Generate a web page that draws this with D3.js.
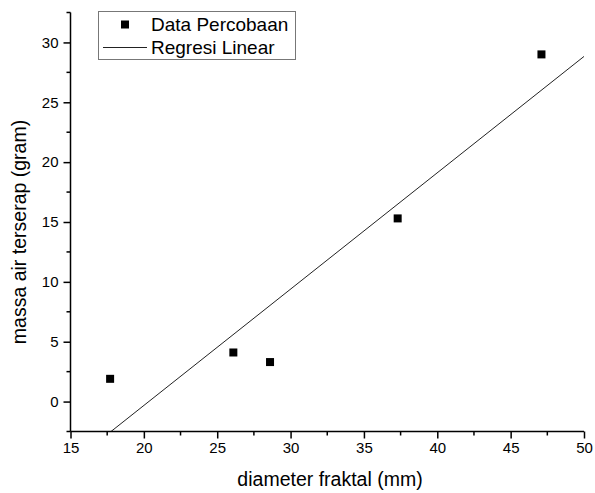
<!DOCTYPE html>
<html><head><meta charset="utf-8">
<script src="https://cdn.jsdelivr.net/npm/d3@7"></script>
<style>body{margin:0;background:#fff}svg{display:block}text{font-family:"Liberation Sans",Arial,sans-serif;fill:#000}</style>
</head><body><svg id="c" width="595" height="493"></svg>
<script>
const diameter = [17.7, 26.1, 28.6, 37.3, 47.1];
const massa = [1.9, 4.1, 3.3, 15.3, 29.0];
const regX = [17.7, 50];
const regY = [-2.56, 28.83];
const xTicks = [15, 20, 25, 30, 35, 40, 45, 50];
const yTicks = [0, 5, 10, 15, 20, 25, 30];
const xMinor = [17.5, 22.5, 27.5, 32.5, 37.5, 42.5, 47.5];
const yMinor = [-2.5, 2.5, 7.5, 12.5, 17.5, 22.5, 27.5, 32.5];
const legendLabels = ["Data Percobaan", "Regresi Linear"];
const xTitle = "diameter fraktal (mm)";
const yTitle = "massa air terserap (gram)";

const svg = d3.select("#c");
const x = d3.scaleLinear().domain([15, 50]).range([70.5, 584]);
const y = d3.scaleLinear().domain([-2.5, 32.5]).range([431.5, 12.5]);

svg.append("defs").append("clipPath").attr("id","clip").append("rect")
  .attr("x", 70.5).attr("y", 12.5).attr("width", 584-70.5).attr("height", 431.5-12.5);

// regression line
svg.append("path").datum(regX.map((d,i)=>[d, regY[i]]))
  .attr("clip-path","url(#clip)")
  .attr("d", d3.line().x(d=>x(d[0])).y(d=>y(d[1])))
  .attr("fill","none").attr("stroke","#222").attr("stroke-width",1);

// points
svg.append("g").selectAll("rect").data(diameter).join("rect")
  .attr("x",(d)=>x(d)-4).attr("y",(d,i)=>y(massa[i])-4)
  .attr("width",8).attr("height",8).attr("fill","#000");

// axes
const xAxis = svg.append("g").attr("transform","translate(0,431.5)")
  .call(d3.axisBottom(x).tickValues(xTicks).tickSize(7).tickPadding(4).tickFormat(d3.format("d")));
xAxis.append("g").selectAll("line").data(xMinor).join("line")
  .attr("x1",d=>x(d)).attr("x2",d=>x(d)).attr("y1",0).attr("y2",4).attr("stroke","#000").attr("stroke-width",1.5);
const yAxis = svg.append("g").attr("transform","translate(70.5,0)")
  .call(d3.axisLeft(y).tickValues(yTicks).tickSize(7).tickPadding(5).tickFormat(d3.format("d")));
yAxis.append("g").selectAll("line").data(yMinor).join("line")
  .attr("y1",d=>y(d)).attr("y2",d=>y(d)).attr("x1",0).attr("x2",-4).attr("stroke","#000").attr("stroke-width",1.5);
[xAxis, yAxis].forEach(a=>{
  a.select(".domain").attr("stroke","#000").attr("stroke-width",1.5).attr("d", a===xAxis ? "M70.5,0H584" : "M0,12.5V431.5");
  a.selectAll(".tick line").attr("stroke","#000").attr("stroke-width",1.5);
  a.selectAll(".tick text").attr("font-size",15).attr("font-family","Liberation Sans, Arial, sans-serif");
});

// titles
svg.append("text").attr("x",330).attr("y",486).attr("text-anchor","middle").attr("font-size",19.5).text(xTitle);
svg.append("text").attr("transform","translate(26,232) rotate(-90)").attr("text-anchor","middle").attr("font-size",19.5).text(yTitle);

// legend
const lg = svg.append("g");
lg.append("rect").attr("x",98.5).attr("y",11.5).attr("width",197).attr("height",48).attr("fill","#fff").attr("stroke","#777").attr("stroke-width",1);
lg.append("rect").attr("x",121).attr("y",20.5).attr("width",8).attr("height",8).attr("fill","#000");
lg.append("line").attr("x1",103).attr("x2",147).attr("y1",47.5).attr("y2",47.5).attr("stroke","#222").attr("stroke-width",1);
lg.selectAll("text.l").data(legendLabels).join("text").attr("class","l")
  .attr("x",151).attr("y",(d,i)=>31+i*23).attr("font-size",19).text(d=>d);
</script></body></html>
